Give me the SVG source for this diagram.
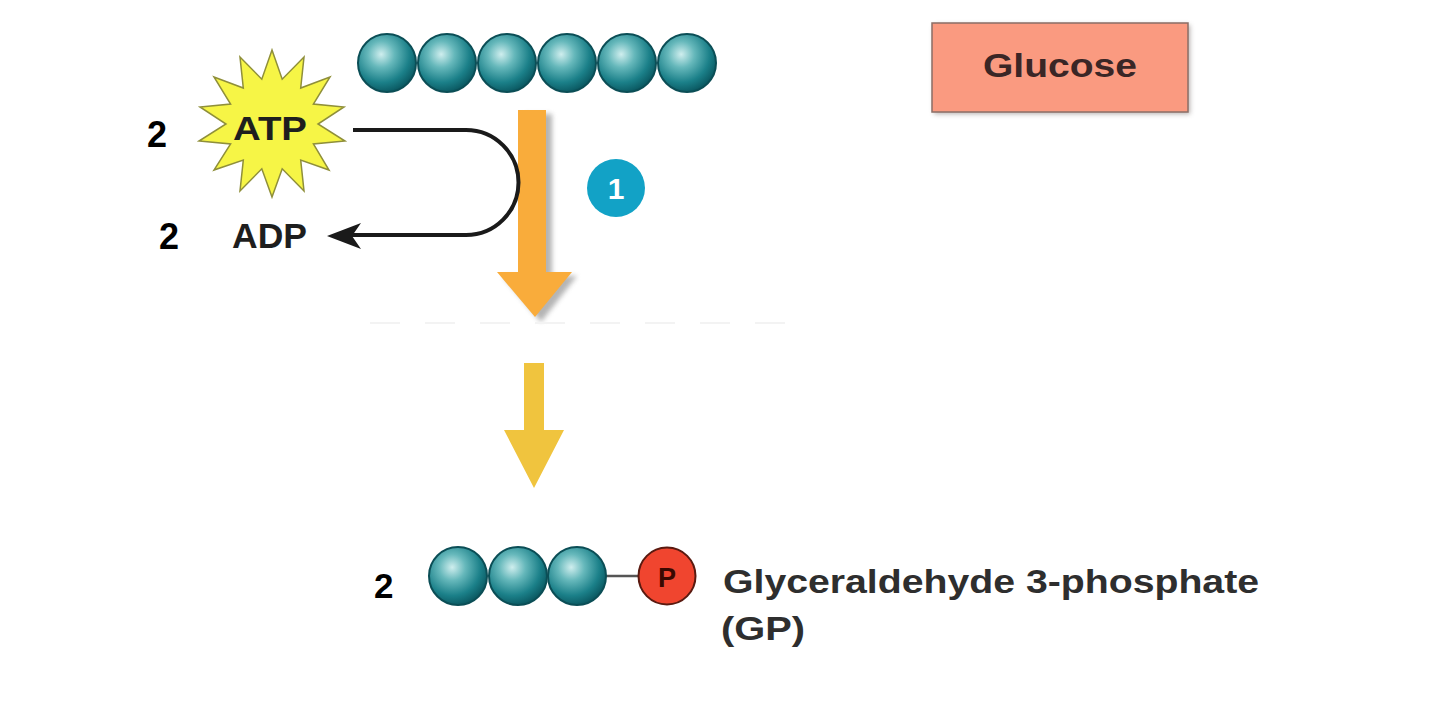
<svg xmlns="http://www.w3.org/2000/svg" width="1440" height="704" viewBox="0 0 1440 704">
<style>
.lbl{font-family:"Liberation Sans",Arial,sans-serif;font-weight:bold;fill:#1e1e1e}
.num{font-family:"Liberation Sans",Arial,sans-serif;font-weight:bold;fill:#000}
.bead{fill:url(#teal);stroke:#0b4e56;stroke-width:2}
</style>
<defs>
<radialGradient id="teal" cx="0.4" cy="0.35" r="0.65">
<stop offset="0" stop-color="#cfeeee"/>
<stop offset="0.35" stop-color="#66b8bb"/>
<stop offset="0.75" stop-color="#1b8089"/>
<stop offset="1" stop-color="#0c5c65"/>
</radialGradient>
<filter id="soft" x="-20%" y="-20%" width="140%" height="140%">
<feGaussianBlur stdDeviation="2.5"/>
</filter>
</defs>
<rect width="1440" height="704" fill="#fff"/>

<g id="glucose-chain">
<circle class="bead" cx="387" cy="63" r="29"/>
<circle class="bead" cx="447" cy="63" r="29"/>
<circle class="bead" cx="507" cy="63" r="29"/>
<circle class="bead" cx="567" cy="63" r="29"/>
<circle class="bead" cx="627" cy="63" r="29"/>
<circle class="bead" cx="687" cy="63" r="29"/>
</g>

<g id="glucose-label">
<rect x="934" y="25" width="256" height="89" fill="#6e625e" filter="url(#soft)" opacity="0.5"/>
<rect x="932" y="23" width="256" height="89" fill="#fa9a80" stroke="#8a6e66" stroke-width="1.5"/>
<text x="1060" y="77" text-anchor="middle" font-family="Liberation Sans,Arial,sans-serif" font-weight="bold" font-size="34" fill="#3a2626" textLength="154" lengthAdjust="spacingAndGlyphs">Glucose</text>
</g>

<g id="atp">
<polygon points="272,50 282.2,79.2 304,57 300.7,88 330,77 313.4,104 344,107 318,124 345,141 313.4,144 329,170 300.7,160 304,191 282.2,168.8 272,197 261.8,168.8 240,191 243.3,160 214,170 230.6,144 199,141 226,124 200,107 230.6,104 214,77 243.3,88 240,57 261.8,79.2" fill="#f6f546" stroke="#8f8f3a" stroke-width="1.5" stroke-linejoin="miter"/>
<text class="lbl" x="270" y="140" text-anchor="middle" font-size="34" textLength="74" lengthAdjust="spacingAndGlyphs">ATP</text>
<text class="num" x="147" y="147" font-size="36">2</text>
</g>

<g id="adp">
<text class="lbl" x="232" y="248" font-size="35" textLength="75" lengthAdjust="spacingAndGlyphs">ADP</text>
<text class="num" x="159" y="249" font-size="36">2</text>
</g>

<g id="step-1">
<circle cx="616" cy="188" r="29" fill="#12a2c6"/>
<text x="616" y="199" text-anchor="middle" font-family="Liberation Sans,Arial,sans-serif" font-weight="bold" font-size="30" fill="#fff">1</text>
</g>

<g id="gp">
<line x1="596" y1="576" x2="640" y2="576" stroke="#555" stroke-width="2.5"/>
<circle class="bead" cx="458" cy="576" r="29"/>
<circle class="bead" cx="518" cy="576" r="29"/>
<circle class="bead" cx="577" cy="576" r="29"/>
<circle cx="667" cy="576" r="28.5" fill="#f0452f" stroke="#5a1a10" stroke-width="2"/>
<text x="667" y="587" text-anchor="middle" font-family="Liberation Sans,Arial,sans-serif" font-weight="bold" font-size="27" fill="#3a0800">P</text>
<text class="num" x="374" y="598" font-size="35">2</text>
<text x="723" y="593" font-family="Liberation Sans,Arial,sans-serif" font-weight="bold" font-size="33" fill="#2e2e2e" textLength="536" lengthAdjust="spacingAndGlyphs">Glyceraldehyde 3-phosphate</text>
<text x="721" y="640" font-family="Liberation Sans,Arial,sans-serif" font-weight="bold" font-size="33" fill="#2e2e2e" textLength="84" lengthAdjust="spacingAndGlyphs">(GP)</text>
</g>

<g id="connectors">
<path d="M524,114 H552 V276 H577 L541,322 L503,276 H524 Z" fill="#777" opacity="0.55" filter="url(#soft)"/>
<path d="M518,110 H546 V272 H572 L535,317 L497,272 H518 Z" fill="#f9ac3b"/>
<path d="M353,130 H466 A52.5,52.5 0 0 1 466,235 H352" fill="none" stroke="#1a1a1a" stroke-width="4"/>
<path d="M327,236 L361,223 L352,236 L361,249 Z" fill="#1a1a1a"/>
<line x1="370" y1="323" x2="787" y2="323" stroke="#f3f3f3" stroke-width="2" stroke-dasharray="30 25"/>
<path d="M524,363 H544 V430 H564 L534,488 L504,430 H524 Z" fill="#f0c43e"/>
</g>
</svg>
